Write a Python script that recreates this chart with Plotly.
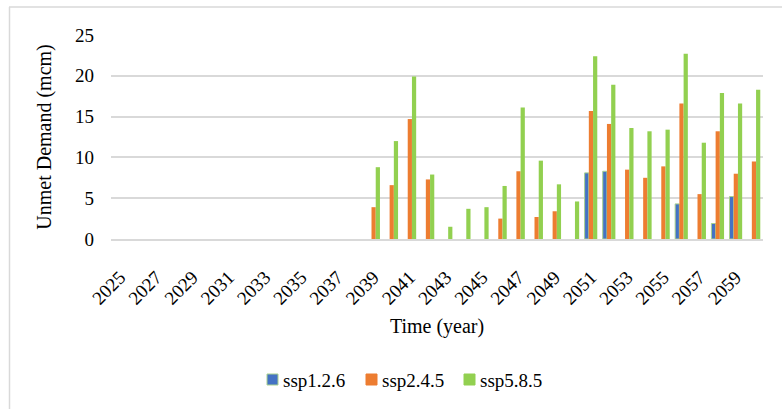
import plotly.graph_objects as go

years = [str(y) for y in range(2025, 2061)]
tick_years = [str(y) for y in range(2025, 2061, 2)]

# values 2025..2060
ssp126 = [0]*14 + [0, 0, 0, 0, 0, 0, 0, 0, 0, 0, 0, 0,
                   8.1, 8.3, 0, 0, 0, 4.3, 0, 1.9, 5.2, 0]
ssp245 = [0]*14 + [3.9, 6.6, 14.7, 7.3, 0, 0, 0, 2.5, 8.3, 2.7, 3.4, 0,
                   15.7, 14.1, 8.5, 7.5, 8.9, 16.6, 5.5, 13.2, 8.0, 9.5]
ssp585 = [0]*14 + [8.8, 12.0, 19.9, 7.9, 1.5, 3.7, 3.9, 6.5, 16.1, 9.6, 6.7, 4.6,
                   22.4, 18.9, 13.6, 13.2, 13.4, 22.7, 11.8, 17.9, 16.6, 18.3]

series_names = ["ssp1.2.6", "ssp2.4.5", "ssp5.8.5"]
colors = ["#4472C4", "#ED7D31", "#92D050"]

FONT = "Liberation Serif"
W, H = 782, 409
ML, MR, MT, MB = 111, 19, 35, 170
PW, PH = W - ML - MR, H - MT - MB


def px(x):
    return (x - ML) / PW


def py(y):
    return (H - MB - y) / PH


fig = go.Figure()
for name, vals, col in zip(series_names, [ssp126, ssp245, ssp585], colors):
    line = dict(color="#A9D18E", width=1) if name == "ssp1.2.6" else dict(width=0)
    shown = [v if v != 0 else None for v in vals]
    fig.add_trace(go.Bar(x=years, y=shown, name=name, showlegend=False,
                         marker=dict(color=col, line=line)))

# manual legend (swatch + text) to mimic Excel spacing
legend_x = [267, 366, 464]
shapes = [
    dict(type="line", xref="paper", yref="paper", x0=px(9), x1=px(W + 10), y0=py(7), y1=py(7),
         line=dict(color="#D9D9D9", width=1.5)),
    dict(type="line", xref="paper", yref="paper", x0=px(9.5), x1=px(9.5), y0=py(7), y1=py(H + 10),
         line=dict(color="#D9D9D9", width=1.5)),
]
annotations = []
for name, col, lx in zip(series_names, colors, legend_x):
    border = "#A9D18E" if name == "ssp1.2.6" else col
    shapes.append(dict(type="rect", xref="paper", yref="paper",
                       x0=px(lx), x1=px(lx + 11), y0=py(385), y1=py(374),
                       fillcolor=col, line=dict(color=border, width=1)))
    annotations.append(dict(text=name, xref="paper", yref="paper", x=px(lx + 14), y=py(380),
                            xanchor="left", yanchor="middle", showarrow=False,
                            font=dict(family=FONT, size=19, color="#000000")))

fig.update_layout(
    width=W, height=H,
    margin=dict(l=ML, r=MR, t=MT, b=MB),
    paper_bgcolor="white", plot_bgcolor="white",
    barmode="group", bargap=0.3, bargroupgap=0,
    font=dict(family=FONT, size=19, color="#000000"),
    showlegend=False,
    shapes=shapes, annotations=annotations,
)
fig.update_xaxes(
    type="category", tickmode="array", tickvals=tick_years, ticktext=tick_years,
    tickangle=-45, showgrid=False, showline=True, linecolor="#D9D9D9", linewidth=1.5,
    ticks="outside", ticklen=18, tickcolor="rgba(0,0,0,0)",
    tickfont=dict(family=FONT, size=19),
    title=dict(text="Time (year)", font=dict(family=FONT, size=20), standoff=12),
)
fig.update_yaxes(
    range=[0, 25], dtick=5, showgrid=True, gridcolor="#D9D9D9", gridwidth=1.5,
    zeroline=False, showline=False, ticks="", ticklabelstandoff=16,
    tickfont=dict(family=FONT, size=19),
    title=dict(text="Unmet Demand (mcm)", font=dict(family=FONT, size=20), standoff=18),
)

fig.write_html("out.html")
